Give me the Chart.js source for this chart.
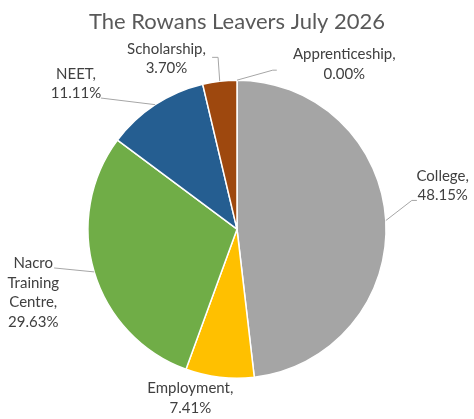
<!DOCTYPE html>
<html><head><meta charset="utf-8">
<script src="https://cdn.jsdelivr.net/npm/chart.js@4"></script>
<style>html,body{margin:0;padding:0;background:#fff;} #wrap{width:474px;height:419px;}</style>
</head><body><div id="wrap"><canvas id="c" width="474" height="419"></canvas></div>
<script>
const categories = ['Apprenticeship', 'College', 'Employment', 'Nacro Training Centre', 'NEET', 'Scholarship'];
const labelLines = [['Apprenticeship,'], ['College,'], ['Employment,'], ['Nacro', 'Training', 'Centre,'], ['NEET,'], ['Scholarship,']];
const percentages = [0.00, 48.15, 7.41, 29.63, 11.11, 3.70];
const sliceColors = ['#4472C4', '#A5A5A5', '#FFC000', '#70AD47', '#255E91', '#9E480E'];
const titleText = 'The Rowans Leavers July 2026';

// label placement relative to pie centre, in units of the pie radius
const labelLayout = [
  {tx: 0.72, ty: -1.107, leader: [[0.24, -1.067], [0.267, -1.067]]},
  {tx: 1.38, ty: -0.293, leader: [[1.173, -0.193], [1.207, -0.193]]},
  {tx: -0.313, ty: 1.133, leader: []},
  {tx: -1.367, ty: 0.427, leader: [[-1.227, 0.26]]},
  {tx: -1.08, ty: -0.977, leader: [[-0.913, -0.88]]},
  {tx: -0.473, ty: -1.143, leader: [[-0.127, -1.153], [-0.167, -1.153]]}
];

const FONT = 'Lato, "Open Sans", sans-serif';

const labelPlugin = {
  id: 'pieLabels',
  afterDatasetsDraw(chart) {
    const ctx = chart.ctx;
    const meta = chart.getDatasetMeta(0);
    meta.data.forEach((arc, i) => {
      const p = arc.getProps(['x', 'y', 'startAngle', 'endAngle', 'outerRadius'], true);
      const r = p.outerRadius;
      const mid = (p.startAngle + p.endAngle) / 2;
      const ex = p.x + Math.cos(mid) * r;
      const ey = p.y + Math.sin(mid) * r;
      const lay = labelLayout[i];
      if (lay.leader.length) {
        ctx.save();
        ctx.strokeStyle = '#A6A6A6';
        ctx.lineWidth = 1;
        ctx.beginPath();
        ctx.moveTo(ex, ey);
        lay.leader.forEach(pt => ctx.lineTo(p.x + pt[0] * r, p.y + pt[1] * r));
        ctx.stroke();
        ctx.restore();
      }
      const lines = labelLines[i].concat([percentages[i].toFixed(2) + '%']);
      const lh = 19.5;
      const cx = p.x + lay.tx * r;
      const cy = p.y + lay.ty * r;
      ctx.save();
      ctx.fillStyle = '#404040';
      ctx.font = '15px ' + FONT;
      ctx.textAlign = 'center';
      ctx.textBaseline = 'middle';
      lines.forEach((t, k) => {
        ctx.fillText(t, cx, cy + (k - (lines.length - 1) / 2) * lh);
      });
      ctx.restore();
    });
  }
};

new Chart(document.getElementById('c'), {
  type: 'pie',
  data: {
    labels: categories,
    datasets: [{
      data: percentages,
      backgroundColor: sliceColors,
      borderColor: '#FFFFFF',
      borderWidth: 1.5
    }]
  },
  options: {
    responsive: false,
    animation: false,
    layout: {padding: {top: 0, bottom: 40, left: 60, right: 60}},
    plugins: {
      legend: {display: false},
      tooltip: {enabled: false},
      title: {
        display: true,
        text: titleText,
        color: '#595959',
        font: {family: FONT, size: 22, weight: 'normal'},
        padding: {top: 9, bottom: 44}
      }
    }
  },
  plugins: [labelPlugin]
});
</script>
</body></html>
